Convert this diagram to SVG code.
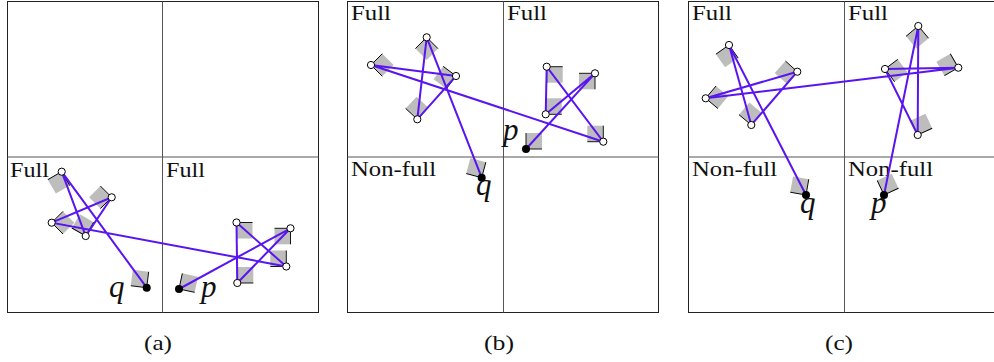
<svg xmlns="http://www.w3.org/2000/svg" width="994" height="362" viewBox="0 0 994 362">
<defs>
<style>
.frame{fill:none;stroke:#222;stroke-width:1}
.mid{fill:none;stroke:#555;stroke-width:1}
.sq{fill:#bdbdbd}
.arm{fill:none;stroke:#000;stroke-width:0.9}
.edge{fill:none;stroke:#5a14f0;stroke-width:2;stroke-linecap:round}
.ov{fill:#fff;stroke:#000;stroke-width:1}
.fv{fill:#000}
.lbl{font-family:"Liberation Serif","Times New Roman",serif;font-size:21px;fill:#111}
.var{font-family:"Liberation Serif","Times New Roman",serif;font-style:italic;font-size:31px;fill:#111}
.cap{font-family:"Liberation Serif","Times New Roman",serif;font-size:21px;fill:#111}
</style>
<g id="cone"><rect class="sq" x="0" y="0" width="16" height="16"/><path class="arm" d="M16,0 H0 V16"/></g>
</defs>
<rect width="994" height="362" fill="#fff"/>

<g id="panels">
<rect class="frame" x="7.5" y="1.5" width="311" height="311"/>
<line class="mid" x1="162.5" y1="1.5" x2="162.5" y2="312.5"/>
<line class="mid" x1="7.5" y1="157" x2="318.5" y2="157"/>
<rect class="frame" x="347.5" y="1.5" width="311" height="311"/>
<line class="mid" x1="503.5" y1="1.5" x2="503.5" y2="312.5"/>
<line class="mid" x1="347.5" y1="157" x2="658.5" y2="157"/>
<rect class="frame" x="688.5" y="1.5" width="311" height="311"/>
<line class="mid" x1="844.5" y1="1.5" x2="844.5" y2="312.5"/>
<line class="mid" x1="688.5" y1="157" x2="999.5" y2="157"/>
</g>

<g id="labels">
<text class="lbl" x="10" y="176.5" textLength="39" lengthAdjust="spacingAndGlyphs">Full</text>
<text class="lbl" x="166" y="176.5" textLength="39" lengthAdjust="spacingAndGlyphs">Full</text>
<text class="lbl" x="351" y="20" textLength="40" lengthAdjust="spacingAndGlyphs">Full</text>
<text class="lbl" x="507" y="20" textLength="40" lengthAdjust="spacingAndGlyphs">Full</text>
<text class="lbl" x="351" y="176" textLength="85" lengthAdjust="spacingAndGlyphs">Non-full</text>
<text class="lbl" x="692" y="20" textLength="40" lengthAdjust="spacingAndGlyphs">Full</text>
<text class="lbl" x="848" y="20" textLength="40" lengthAdjust="spacingAndGlyphs">Full</text>
<text class="lbl" x="692" y="176" textLength="85" lengthAdjust="spacingAndGlyphs">Non-full</text>
<text class="lbl" x="848" y="176" textLength="85" lengthAdjust="spacingAndGlyphs">Non-full</text>
<text class="cap" x="144" y="350" textLength="28" lengthAdjust="spacingAndGlyphs">(a)</text>
<text class="cap" x="484" y="350" textLength="30" lengthAdjust="spacingAndGlyphs">(b)</text>
<text class="cap" x="825" y="350" textLength="28" lengthAdjust="spacingAndGlyphs">(c)</text>
</g>

<g id="cones">
<use href="#cone" transform="translate(61.7,171.7) rotate(60)"/>
<use href="#cone" transform="translate(111.7,197.3) rotate(135)"/>
<use href="#cone" transform="translate(51.7,222.7) rotate(-45)"/>
<use href="#cone" transform="translate(85.7,236) rotate(210)"/>
<use href="#cone" transform="translate(146.7,287.7) rotate(187)"/>
<use href="#cone" transform="translate(179,289) rotate(-78)"/>
<use href="#cone" transform="translate(236.5,222.5) rotate(0)"/>
<use href="#cone" transform="translate(237.3,283) rotate(-90)"/>
<use href="#cone" transform="translate(290.5,228.3) rotate(90)"/>
<use href="#cone" transform="translate(286.3,266.5) rotate(180)"/>

<use href="#cone" transform="translate(426.7,37.3) rotate(45)"/>
<use href="#cone" transform="translate(371,65) rotate(-45)"/>
<use href="#cone" transform="translate(456,76) rotate(127)"/>
<use href="#cone" transform="translate(417.3,119.3) rotate(223)"/>
<use href="#cone" transform="translate(481.7,177.7) rotate(195)"/>
<use href="#cone" transform="translate(546.7,66.7) rotate(0)"/>
<use href="#cone" transform="translate(595,73.3) rotate(90)"/>
<use href="#cone" transform="translate(545.7,114.3) rotate(-90)"/>
<use href="#cone" transform="translate(603.3,141.7) rotate(180)"/>
<use href="#cone" transform="translate(526,149) rotate(-90)"/>

<use href="#cone" transform="translate(729,45) rotate(55)"/>
<use href="#cone" transform="translate(797.3,71.7) rotate(132)"/>
<use href="#cone" transform="translate(705.7,98.3) rotate(-50)"/>
<use href="#cone" transform="translate(751.3,125) rotate(220)"/>
<use href="#cone" transform="translate(806,195) rotate(190)"/>
<use href="#cone" transform="translate(918.3,26) rotate(50)"/>
<use href="#cone" transform="translate(885,69) rotate(-37)"/>
<use href="#cone" transform="translate(958.3,67.7) rotate(150)"/>
<use href="#cone" transform="translate(917.7,135) rotate(-115)"/>
<use href="#cone" transform="translate(884,195) rotate(-115)"/>
</g>

<g id="connectors">
<polyline class="edge" points="146.7,287.7 61.7,171.7 85.7,236 111.7,197.3 51.7,222.7 286.3,266.5 236.5,222.5 237.3,283 290.5,228.3 179,289"/>
<polyline class="edge" points="481.7,177.7 426.7,37.3 417.3,119.3 456,76 371,65 603.3,141.7 546.7,66.7 545.7,114.3 595,73.3 526,149"/>
<polyline class="edge" points="806,195 729,45 751.3,125 797.3,71.7 705.7,98.3 958.3,67.7 885,69 917.7,135 918.3,26 884,195"/>
</g>

<g id="a-q"><circle class="fv" cx="146.7" cy="287.7" r="4"/><text class="var" x="109" y="297">q</text></g>
<g id="a-p"><circle class="fv" cx="179" cy="289" r="4"/><text class="var" x="201" y="297">p</text></g>
<g id="a-v1"><circle class="ov" cx="61.7" cy="171.7" r="3.6"/></g>
<g id="a-v2"><circle class="ov" cx="111.7" cy="197.3" r="3.6"/></g>
<g id="a-v3"><circle class="ov" cx="51.7" cy="222.7" r="3.6"/></g>
<g id="a-v4"><circle class="ov" cx="85.7" cy="236" r="3.6"/></g>
<g id="a-v5"><circle class="ov" cx="236.5" cy="222.5" r="3.6"/></g>
<g id="a-v6"><circle class="ov" cx="237.3" cy="283" r="3.6"/></g>
<g id="a-v7"><circle class="ov" cx="290.5" cy="228.3" r="3.6"/></g>
<g id="a-v8"><circle class="ov" cx="286.3" cy="266.5" r="3.6"/></g>

<g id="b-q"><circle class="fv" cx="481.7" cy="177.7" r="4"/><text class="var" x="476" y="195">q</text></g>
<g id="b-p"><circle class="fv" cx="526" cy="149" r="4"/><text class="var" x="503" y="140">p</text></g>
<g id="b-v1"><circle class="ov" cx="426.7" cy="37.3" r="3.6"/></g>
<g id="b-v2"><circle class="ov" cx="371" cy="65" r="3.6"/></g>
<g id="b-v3"><circle class="ov" cx="456" cy="76" r="3.6"/></g>
<g id="b-v4"><circle class="ov" cx="417.3" cy="119.3" r="3.6"/></g>
<g id="b-v5"><circle class="ov" cx="546.7" cy="66.7" r="3.6"/></g>
<g id="b-v6"><circle class="ov" cx="595" cy="73.3" r="3.6"/></g>
<g id="b-v7"><circle class="ov" cx="545.7" cy="114.3" r="3.6"/></g>
<g id="b-v8"><circle class="ov" cx="603.3" cy="141.7" r="3.6"/></g>

<g id="c-q"><circle class="fv" cx="806" cy="195" r="4"/><text class="var" x="800" y="213">q</text></g>
<g id="c-p"><circle class="fv" cx="884" cy="195" r="4"/><text class="var" x="871" y="213">p</text></g>
<g id="c-v1"><circle class="ov" cx="729" cy="45" r="3.6"/></g>
<g id="c-v2"><circle class="ov" cx="797.3" cy="71.7" r="3.6"/></g>
<g id="c-v3"><circle class="ov" cx="705.7" cy="98.3" r="3.6"/></g>
<g id="c-v4"><circle class="ov" cx="751.3" cy="125" r="3.6"/></g>
<g id="c-v5"><circle class="ov" cx="918.3" cy="26" r="3.6"/></g>
<g id="c-v6"><circle class="ov" cx="885" cy="69" r="3.6"/></g>
<g id="c-v7"><circle class="ov" cx="958.3" cy="67.7" r="3.6"/></g>
<g id="c-v8"><circle class="ov" cx="917.7" cy="135" r="3.6"/></g>
</svg>
